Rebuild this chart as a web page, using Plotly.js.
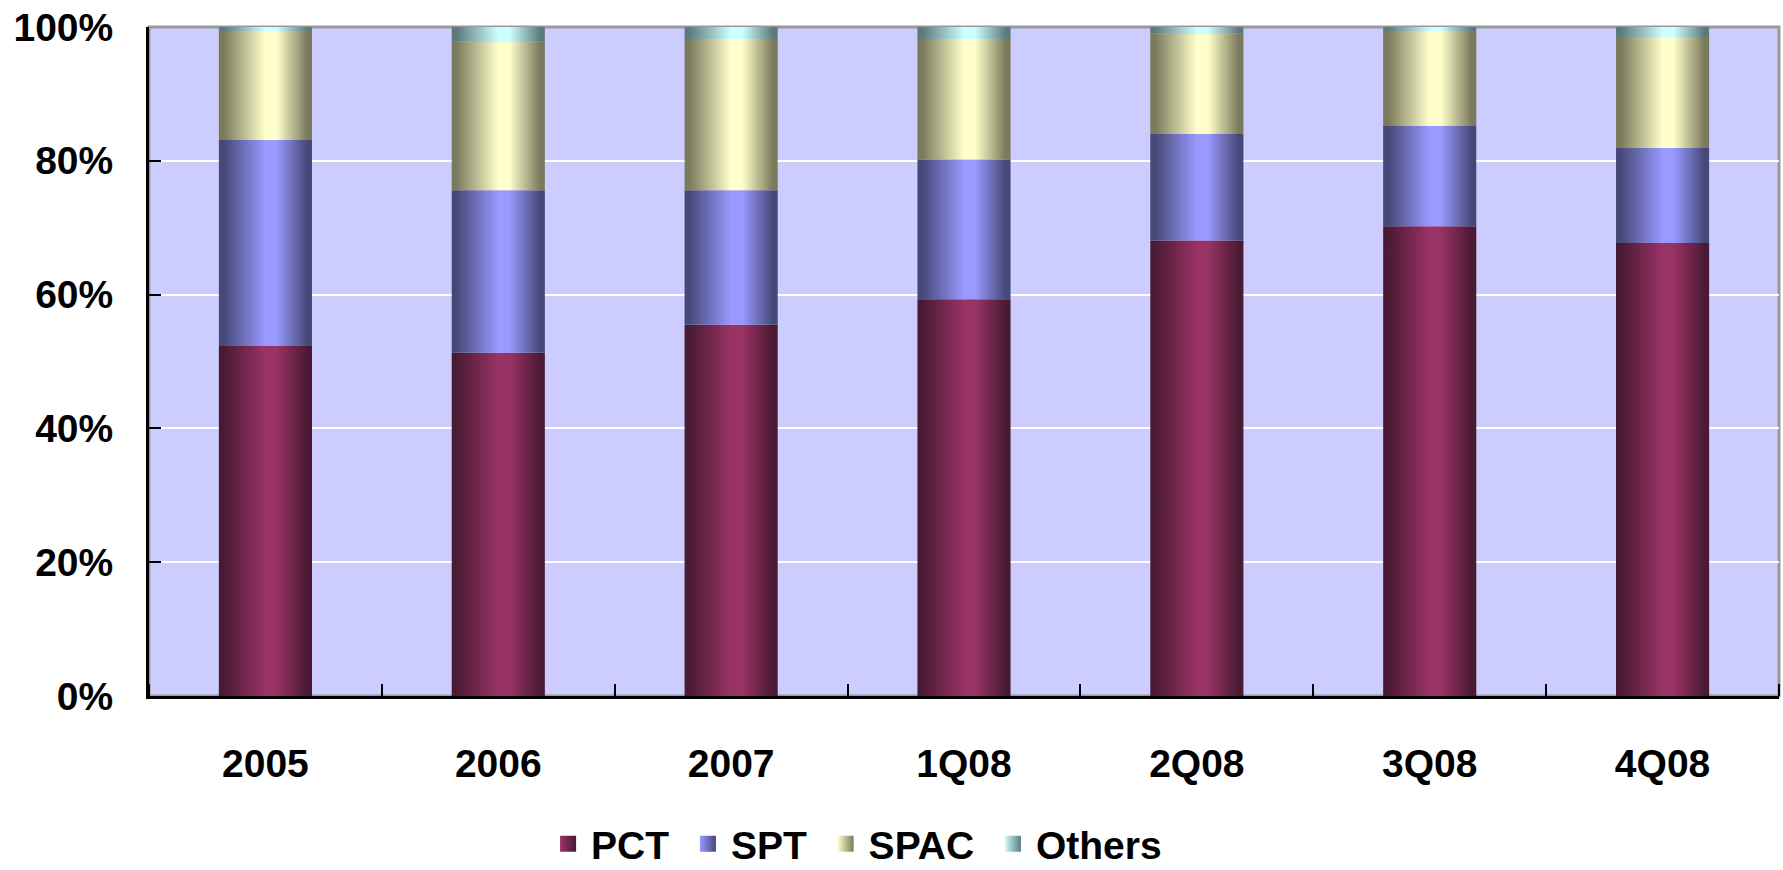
<!DOCTYPE html>
<html><head><meta charset="utf-8">
<script src="https://cdn.plot.ly/plotly-3.0.1.min.js"></script>
<style>html,body{margin:0;padding:0;background:#fff}#chart{width:1783px;height:870px}</style>
</head><body><div id="chart"></div>
<script>
// ---- data ----
const categories = ['2005', '2006', '2007', '1Q08', '2Q08', '3Q08', '4Q08'];
const seriesNames = ['PCT', 'SPT', 'SPAC', 'Others'];
const pct    = [52.3, 51.3, 55.5, 59.3, 68.1, 70.2, 67.7];
const spt    = [30.8, 24.3, 20.1, 20.9, 15.9, 15.0, 14.2];
const spac   = [16.3, 22.2, 22.6, 18.0, 15.0, 14.2, 16.6];
const others = [0.6, 2.2, 1.8, 1.8, 1.0, 0.6, 1.5];
const yTickVals = [0, 20, 40, 60, 80, 100];

// ---- styles ----
const seriesValues = [pct, spt, spac, others];
const darkColors = ['#4a1a33', '#464878', '#7a7a5c', '#5c7a7a'];
const midColors  = ['#993366', '#9999ff', '#ffffcc', '#ccffff'];
const halfWidth = 0.2;
const FONT = {family: 'Liberation Sans, Arial, sans-serif', size: 39, color: '#000', weight: 'bold'};

function cylinderScale(dark, mid) {
  return [[0, dark], [0.05, dark], [0.5, mid], [0.62, mid], [0.95, dark], [1, dark]];
}

const traces = [];
const base = categories.map(() => 0);
seriesValues.forEach((vals, s) => {
  vals.forEach((v, i) => {
    const x0 = i - halfWidth, x1 = i + halfWidth;
    const y0 = base[i], y1 = base[i] + v;
    base[i] = y1;
    traces.push({
      type: 'scatter', mode: 'lines',
      x: [x0, x1, x1, x0, x0], y: [y0, y0, y1, y1, y0],
      fill: 'toself', fillcolor: midColors[s],
      fillgradient: {type: 'horizontal', colorscale: cylinderScale(darkColors[s], midColors[s])},
      line: {width: 0, color: midColors[s]},
      showlegend: false, hoveron: 'fills',
      text: seriesNames[s] + ' ' + categories[i] + ': ' + v + '%', hoverinfo: 'text'
    });
  });
});
// legend entries
seriesNames.forEach((name, s) => {
  traces.push({
    type: 'scatter', mode: 'markers', x: [null], y: [null], name: name + '\u00a0',
    marker: {symbol: 'square', size: 16, color: midColors[s],
             gradient: {type: 'horizontal', color: darkColors[s]}},
    showlegend: true, hoverinfo: 'skip'
  });
});

const layout = {
  width: 1783, height: 870,
  margin: {l: 149, r: 4, t: 27, b: 174, pad: 0},
  paper_bgcolor: '#ffffff', plot_bgcolor: '#ccccff',
  font: FONT,
  showlegend: true,
  legend: {orientation: 'h', x: 0.243, xanchor: 'left', yref: 'container', y: 0.03, yanchor: 'middle',
           font: FONT, bgcolor: 'rgba(0,0,0,0)', itemwidth: 36},
  xaxis: {
    range: [-0.5, 6.5], tickmode: 'array', tickvals: categories.map((c, i) => i), ticktext: categories,
    ticks: '', showgrid: false, zeroline: false,
    showline: true, linecolor: '#000', linewidth: 3,
    tickfont: FONT, ticklabelstandoff: 31,
    minor: {tick0: -0.5, dtick: 1, ticks: 'inside', ticklen: 12, tickwidth: 2, tickcolor: '#000', showgrid: false},
    fixedrange: true
  },
  yaxis: {
    range: [0, 100], tickmode: 'array', tickvals: yTickVals, ticktext: yTickVals.map(v => v + '%'),
    ticks: 'inside', ticklen: 12, tickwidth: 2, tickcolor: '#000',
    showgrid: true, gridcolor: '#ffffff', gridwidth: 2, zeroline: false,
    showline: true, linecolor: '#000', linewidth: 3,
    tickfont: FONT, ticklabelstandoff: 25,
    fixedrange: true
  },
  shapes: [{type: 'rect', xref: 'paper', yref: 'paper', x0: 0, x1: 1, y0: 0, y1: 1,
            line: {color: '#999999', width: 3}, fillcolor: 'rgba(0,0,0,0)', layer: 'below'}]
};

Plotly.newPlot('chart', traces, layout, {displayModeBar: false, staticPlot: true});
</script>
</body></html>
